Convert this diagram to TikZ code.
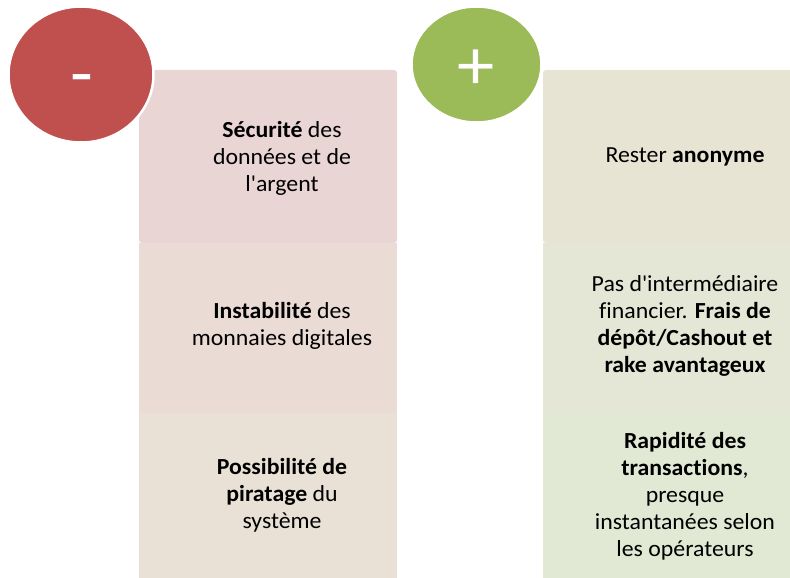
\documentclass[tikz,border=0pt]{standalone}
\usepackage{fontspec}
\setmainfont{Carlito}[Ligatures={NoCommon}, FakeStretch=1.035]
\usetikzlibrary{shapes.geometric}
\definecolor{negone}{RGB}{234,213,213}
\definecolor{negtwo}{RGB}{234,219,213}
\definecolor{negthree}{RGB}{234,225,214}
\definecolor{posone}{RGB}{231,228,212}
\definecolor{postwo}{RGB}{228,231,213}
\definecolor{posthree}{RGB}{225,232,212}
\definecolor{negsign}{RGB}{192,80,77}
\definecolor{possign}{RGB}{155,187,89}
\begin{document}
\begin{tikzpicture}[x=1pt,y=-1pt,
  cell/.style={rectangle, minimum width=258pt, inner sep=0pt, outer sep=0pt},
  txt/.style={align=center, font=\fontsize{23}{27}\selectfont},
  sign/.style={ellipse, draw=white, line width=2.5pt, inner sep=0pt},
  signtxt/.style={text=white, font=\fontsize{72}{72}\selectfont, anchor=base}]
\useasboundingbox (0,0) rectangle (790,578);
% minus column
\node[cell, fill=negone, minimum height=173pt, rounded corners=3pt] (neg1) at (268,156.5){};
\node[cell, fill=negtwo, minimum height=170pt] (neg2) at (268,328){};
\node[cell, fill=negthree, minimum height=180pt] (neg3) at (268,503){};
% plus column
\node[cell, fill=posone, minimum height=173pt, rounded corners=3pt] (pos1) at (672,156.5){};
\node[cell, fill=postwo, minimum height=170pt] (pos2) at (672,328){};
\node[cell, fill=posthree, minimum height=180pt] (pos3) at (672,503){};
% texts
\node[txt] (tneg1) at (282,158){\textbf{Sécurité} des\\données et de\\l\textquotesingle argent};
\node[txt] (tneg2) at (282,326){\textbf{Instabilité} des\\monnaies digitales};
\node[txt] (tneg3) at (282,495){\textbf{Possibilité de}\\\textbf{piratage} du\\système};
\node[txt] (tpos1) at (685,157){Rester \textbf{anonyme}};
\node[txt] (tpos2) at (685,326){Pas d\textquotesingle intermédiaire\\financier. \textbf{Frais de}\\\textbf{dépôt/Cashout et}\\\textbf{rake avantageux}};
\node[txt] (tpos3) at (685,496){\textbf{Rapidité des}\\\textbf{transactions},\\presque\\instantanées selon\\les opérateurs};
% signs
\node[sign, fill=negsign, minimum width=145pt, minimum height=136pt] (minus) at (81,74.5){};
\node[sign, fill=possign, minimum width=130pt, minimum height=116pt] (plus) at (476.5,64.5){};
\node[signtxt] (tminus) at (81.5,97){-};
\node[signtxt] (tplus) at (476.5,89){+};
\end{tikzpicture}
\end{document}
